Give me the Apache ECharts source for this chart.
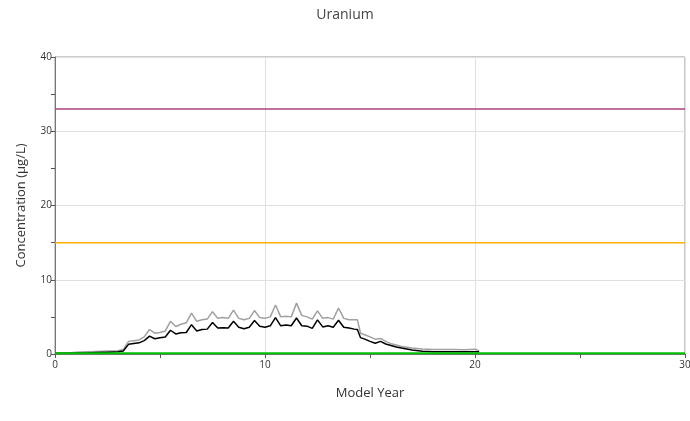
<!DOCTYPE html>
<html><head><meta charset="utf-8">
<script src="https://cdn.jsdelivr.net/npm/echarts@6/dist/echarts.min.js"></script>
<style>html,body{margin:0;padding:0;background:#fff}#c{width:690px;height:421px}</style>
</head><body><div id="c"></div>
<script>
var title = "Uranium";
var xName = "Model Year";
var yName = "Concentration (µg/L)";
var years = [0,0.5,1,1.5,2,2.5,3,3.25,3.5,3.75,4,4.25,4.5,4.75,5,5.25,5.5,5.75,6,6.25,6.5,6.75,7,7.25,7.5,7.75,8,8.25,8.5,8.75,9,9.25,9.5,9.75,10,10.25,10.5,10.75,11,11.25,11.5,11.75,12,12.25,12.5,12.75,13,13.25,13.5,13.75,14,14.25,14.4,14.55,14.75,15,15.25,15.5,15.75,16,16.25,16.5,17,17.5,18,18.5,19,19.5,20,20.2];
var blackVals = [0.1,0.1,0.12,0.15,0.2,0.25,0.3,0.4,1.3,1.4,1.5,1.8,2.4,2.05,2.2,2.3,3.2,2.7,2.85,2.9,3.95,3.1,3.3,3.35,4.25,3.5,3.55,3.5,4.4,3.6,3.4,3.6,4.5,3.75,3.6,3.8,4.9,3.8,3.9,3.8,4.85,3.8,3.75,3.45,4.6,3.65,3.8,3.6,4.55,3.6,3.5,3.35,3.3,2.2,2.0,1.7,1.45,1.7,1.35,1.15,0.95,0.8,0.55,0.38,0.3,0.3,0.3,0.3,0.3,0.3];
var grayVals = [0.1,0.1,0.25,0.3,0.35,0.4,0.45,0.6,1.7,1.8,1.9,2.3,3.3,2.8,2.9,3.1,4.4,3.7,4.0,4.2,5.5,4.4,4.6,4.7,5.7,4.8,4.9,4.8,5.9,4.8,4.6,4.8,5.85,4.9,4.8,5.0,6.6,5.0,5.1,5.0,6.85,5.2,5.0,4.7,5.8,4.8,4.9,4.7,6.2,4.8,4.6,4.6,4.6,2.8,2.6,2.3,2.0,2.1,1.7,1.4,1.2,1.0,0.8,0.68,0.6,0.6,0.62,0.58,0.65,0.4];
var purpleLevel = 33;
var orangeLevel = 15;
var greenLevel = 0.1;
var xRange = [0, 30];
var yRange = [0, 40];

function pairs(xs, ys){ return xs.map(function(x,i){ return [x, ys[i]]; }); }

var chart = echarts.init(document.getElementById('c'), null, {renderer:'canvas'});
var font = 'Open Sans';
chart.setOption({
  animation:false,
  backgroundColor:'#fff',
  title:{text:title,left:'center',top:3,textStyle:{fontFamily:font,fontSize:14,fontWeight:'normal',color:'#444'}},
  grid:{left:55,right:5,top:57,bottom:67,outerBoundsMode:'none',containLabel:false,show:true,borderColor:'#999',borderWidth:1,backgroundColor:'transparent'},
  xAxis:{type:'value',min:xRange[0],max:xRange[1],interval:10,
    name:xName,nameLocation:'middle',nameGap:33,nameTextStyle:{fontFamily:font,fontSize:13,color:'#333'},
    axisLine:{show:true,lineStyle:{color:'#777'}},
    axisTick:{show:true,length:4,lineStyle:{color:'#555'}},
    minorTick:{show:true,splitNumber:2,length:4,lineStyle:{color:'#555'}},
    axisLabel:{fontFamily:font,fontSize:10,color:'#333',margin:6},
    splitLine:{show:true,lineStyle:{color:'#e0e0e0'}}},
  yAxis:{type:'value',min:yRange[0],max:yRange[1],interval:10,
    name:yName,nameLocation:'middle',nameGap:27,nameTextStyle:{fontFamily:font,fontSize:13,color:'#333'},
    axisLine:{show:true,lineStyle:{color:'#777'}},
    axisTick:{show:true,length:4,lineStyle:{color:'#555'}},
    minorTick:{show:true,splitNumber:2,length:4,lineStyle:{color:'#555'}},
    axisLabel:{fontFamily:font,fontSize:10,color:'#333',margin:3},
    splitLine:{show:true,lineStyle:{color:'#e0e0e0'}}},
  series:[
    {type:'line',data:[[xRange[0],purpleLevel],[xRange[1],purpleLevel]],symbol:'none',lineStyle:{color:'#b0407f',width:1.5},z:2},
    {type:'line',data:[[xRange[0],orangeLevel],[xRange[1],orangeLevel]],symbol:'none',lineStyle:{color:'#ffb000',width:1.5},z:2},
    {type:'line',data:pairs(years,grayVals),symbol:'none',lineStyle:{color:'#a0a0a0',width:1.5},z:3},
    {type:'line',data:pairs(years,blackVals),symbol:'none',lineStyle:{color:'#000',width:1.5},z:4},
    {type:'line',data:[[xRange[0],greenLevel],[xRange[1],greenLevel]],symbol:'none',lineStyle:{color:'#00c000',width:2},z:5}
  ]
});
</script></body></html>
